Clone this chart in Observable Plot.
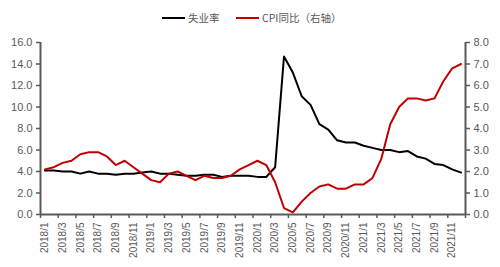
<!DOCTYPE html>
<html>
<head>
<meta charset="utf-8">
<script src="https://cdn.jsdelivr.net/npm/d3@7"></script>
<script src="https://cdn.jsdelivr.net/npm/@observablehq/plot@0.6"></script>
<style>
  html, body { margin: 0; padding: 0; background: #fff; }
  #wrap { width: 500px; height: 267px; position: relative; font-family: "Liberation Sans", "Noto Sans CJK SC", sans-serif; }
  #legend { height: 32px; position: relative; font-family: "Noto Sans CJK SC", sans-serif; font-size: 10.5px; color: #595959; }
  .item { position: absolute; top: 10px; display: flex; align-items: center; white-space: nowrap; }
  .sw { display: inline-block; width: 23px; height: 2px; margin-right: 3px; }
  svg text { font-family: "Liberation Sans", "Noto Sans CJK SC", sans-serif; }
</style>
</head>
<body>
<div id="wrap">
  <div id="legend"></div>
  <div id="chart"></div>
</div>
<script>
const months = [
  "2018/1","2018/2","2018/3","2018/4","2018/5","2018/6","2018/7","2018/8","2018/9","2018/10","2018/11","2018/12",
  "2019/1","2019/2","2019/3","2019/4","2019/5","2019/6","2019/7","2019/8","2019/9","2019/10","2019/11","2019/12",
  "2020/1","2020/2","2020/3","2020/4","2020/5","2020/6","2020/7","2020/8","2020/9","2020/10","2020/11","2020/12",
  "2021/1","2021/2","2021/3","2021/4","2021/5","2021/6","2021/7","2021/8","2021/9","2021/10","2021/11","2021/12"
];
const unemployment = [
  4.1,4.1,4.0,4.0,3.8,4.0,3.8,3.8,3.7,3.8,3.8,3.9,
  4.0,3.8,3.8,3.7,3.6,3.6,3.7,3.7,3.5,3.6,3.6,3.6,
  3.5,3.5,4.4,14.7,13.2,11.0,10.2,8.4,7.9,6.9,6.7,6.7,
  6.4,6.2,6.0,6.0,5.8,5.9,5.4,5.2,4.7,4.6,4.2,3.9
];
const cpi = [
  2.1,2.2,2.4,2.5,2.8,2.9,2.9,2.7,2.3,2.5,2.2,1.9,
  1.6,1.5,1.9,2.0,1.8,1.6,1.8,1.7,1.7,1.8,2.1,2.3,
  2.5,2.3,1.5,0.3,0.1,0.6,1.0,1.3,1.4,1.2,1.2,1.4,
  1.4,1.7,2.6,4.2,5.0,5.4,5.4,5.3,5.4,6.2,6.8,7.0
];
const leftTicks = [0,2,4,6,8,10,12,14,16];
const rightTicks = [0,1,2,3,4,5,6,7,8];
const seriesNames = ["失业率", "CPI同比（右轴）"];
const seriesColors = ["#000000", "#C00000"];

// legend
const legend = document.getElementById("legend");
const lefts = [162, 236];
seriesNames.forEach((n, k) => {
  const it = document.createElement("div");
  it.className = "item";
  it.style.left = lefts[k] + "px";
  it.innerHTML = `<span class="sw" style="background:${seriesColors[k]}"></span><span>${n}</span>`;
  legend.appendChild(it);
});

const data = months.map((m, i) => ({m, i, u: unemployment[i], c: cpi[i]}));
const ratio = 16 / 8;
const axisColor = "#595959";
const labelIdx = months.map((m, i) => i).filter(i => i % 2 === 0);

const chart = Plot.plot({
  width: 500,
  height: 235,
  marginTop: 10,
  marginBottom: 53,
  marginLeft: 40,
  marginRight: 35,
  x: {type: "linear", domain: [0, months.length], axis: null},
  y: {domain: [0, 16], axis: null},
  marks: [
    Plot.axisY({anchor: "left", ticks: leftTicks, tickFormat: d => d.toFixed(1), tickSize: 4, tickPadding: 4,
      color: axisColor, strokeWidth: 1.5, fontSize: 11}),
    Plot.axisY({anchor: "right", ticks: leftTicks, tickFormat: d => (d / ratio).toFixed(1), tickSize: 4, tickPadding: 4,
      color: axisColor, strokeWidth: 1.5, fontSize: 11}),
    Plot.axisX({anchor: "bottom", ticks: labelIdx.concat([months.length]), tickFormat: () => "", tickSize: 4,
      color: axisColor, strokeWidth: 1.5}),
    Plot.axisX({anchor: "bottom", ticks: labelIdx.map(i => i + 0.5), tickFormat: d => months[Math.round(d - 0.5)],
      tickSize: 0, tickPadding: 8, tickRotate: -90, color: axisColor, fontSize: 10}),
    Plot.line(data, {x: d => d.i + 0.5, y: d => d.u, stroke: seriesColors[0], strokeWidth: 2}),
    Plot.line(data, {x: d => d.i + 0.5, y: d => d.c * ratio, stroke: seriesColors[1], strokeWidth: 2}),
    Plot.ruleX([0, months.length], {y1: 0, y2: 16, stroke: axisColor, strokeWidth: 2}),
    Plot.ruleY([0], {stroke: axisColor, strokeWidth: 2})
  ]
});
document.getElementById("chart").appendChild(chart);
</script>
</body>
</html>
